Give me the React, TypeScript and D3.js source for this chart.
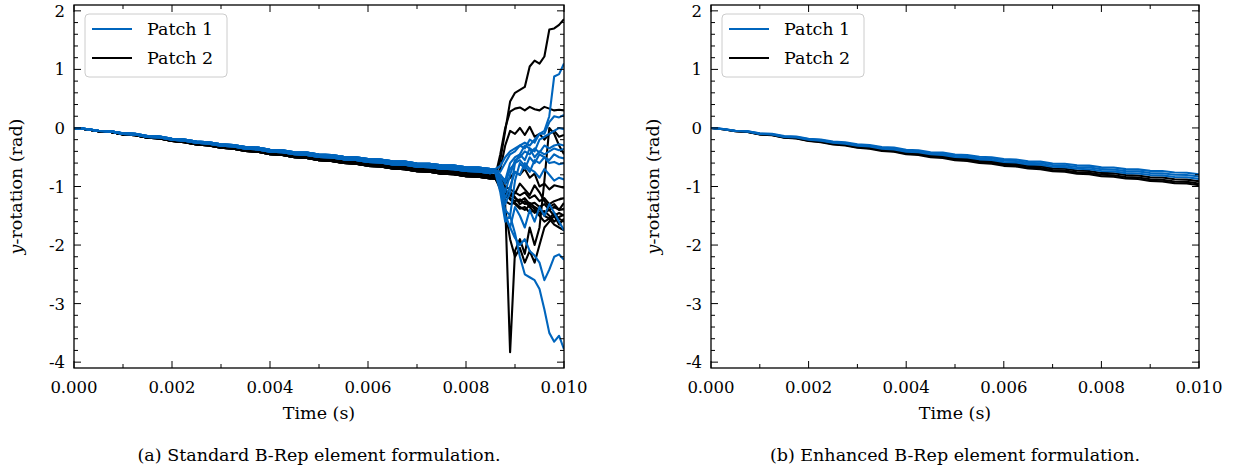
import React from "react";
import * as d3 from "d3";

// time grid of the smooth part (s)
const smoothTimes = [
  0, 0.00025, 0.0005, 0.00075, 0.001, 0.00125, 0.0015, 0.00175, 0.002, 0.00225,
  0.0025, 0.00275, 0.003, 0.00325, 0.0035, 0.00375, 0.004, 0.00425, 0.0045, 0.00475,
  0.005, 0.00525, 0.0055, 0.00575, 0.006, 0.00625, 0.0065, 0.00675, 0.007, 0.00725,
  0.0075, 0.00775, 0.008, 0.00825, 0.0085, 0.00875, 0.009, 0.00925, 0.0095, 0.00975, 0.01,
];
// time grid after the standard formulation breaks down
const breakTime = 0.0085;
const chaosTimes = [
  0.0086, 0.0087, 0.0088, 0.0089, 0.009, 0.0091, 0.0092, 0.0093, 0.0094, 0.0095,
  0.0096, 0.0097, 0.0098, 0.0099, 0.01,
];

// y-rotation (rad), Patch 1 (blue), smooth response
const patch1Smooth = [
  [0, -0.018, -0.047, -0.055, -0.093, -0.101, -0.14, -0.148, -0.186, -0.199, -0.233, -0.246, -0.279, -0.292, -0.326, -0.336, -0.372, -0.38, -0.414, -0.422, -0.455, -0.463, -0.492, -0.5, -0.533, -0.539, -0.57, -0.575, -0.606, -0.611, -0.638, -0.643, -0.672, -0.676, -0.703, -0.707, -0.733, -0.736, -0.762, -0.765, -0.79],
  [0, -0.019, -0.049, -0.058, -0.097, -0.106, -0.146, -0.155, -0.194, -0.208, -0.243, -0.257, -0.291, -0.305, -0.34, -0.351, -0.388, -0.397, -0.432, -0.441, -0.475, -0.484, -0.514, -0.523, -0.557, -0.564, -0.596, -0.602, -0.634, -0.64, -0.668, -0.674, -0.704, -0.709, -0.737, -0.742, -0.769, -0.773, -0.8, -0.804, -0.83],
  [0, -0.02, -0.051, -0.061, -0.101, -0.111, -0.152, -0.162, -0.202, -0.217, -0.253, -0.268, -0.303, -0.318, -0.354, -0.366, -0.404, -0.414, -0.45, -0.46, -0.495, -0.505, -0.536, -0.546, -0.581, -0.589, -0.622, -0.629, -0.662, -0.669, -0.698, -0.705, -0.736, -0.742, -0.771, -0.777, -0.805, -0.81, -0.838, -0.843, -0.87],
];

// y-rotation (rad), Patch 2 (black), smooth response
const patch2Smooth = [
  [0, -0.021, -0.053, -0.064, -0.105, -0.116, -0.158, -0.169, -0.21, -0.226, -0.263, -0.279, -0.315, -0.331, -0.368, -0.381, -0.42, -0.431, -0.468, -0.479, -0.515, -0.526, -0.558, -0.569, -0.605, -0.614, -0.648, -0.656, -0.69, -0.698, -0.728, -0.736, -0.768, -0.775, -0.805, -0.812, -0.841, -0.847, -0.875, -0.882, -0.91],
  [0, -0.022, -0.055, -0.067, -0.109, -0.121, -0.164, -0.176, -0.218, -0.235, -0.273, -0.29, -0.327, -0.344, -0.382, -0.396, -0.436, -0.448, -0.486, -0.498, -0.535, -0.547, -0.58, -0.592, -0.629, -0.639, -0.674, -0.683, -0.718, -0.727, -0.758, -0.767, -0.8, -0.808, -0.839, -0.847, -0.877, -0.884, -0.914, -0.921, -0.95],
  [0, -0.023, -0.056, -0.069, -0.112, -0.125, -0.168, -0.181, -0.224, -0.242, -0.28, -0.298, -0.336, -0.354, -0.392, -0.407, -0.448, -0.461, -0.499, -0.512, -0.55, -0.563, -0.596, -0.609, -0.647, -0.658, -0.693, -0.703, -0.739, -0.749, -0.78, -0.79, -0.824, -0.833, -0.864, -0.873, -0.904, -0.912, -0.942, -0.95, -0.98],
];

// standard formulation: diverging tails after t = 0.0085 s
const patch1TailBase = [0, 1, 2, 0, 1, 2, 0, 1, 2, 0, 1];
const patch1Tails = [
  [-0.7, -0.65, -0.5, -0.4, -0.35, -0.3, -0.25, -0.3, -0.2, -0.1, -0.05, 0.2, 0.88, 0.92, 1.1],
  [-0.72, -0.75, -0.6, -0.45, -0.4, -0.3, -0.35, -0.2, -0.25, -0.1, -0.1, 0.1, 0.2, 0.18, 0.22],
  [-0.73, -0.8, -0.9, -0.6, -0.5, -0.45, -0.3, -0.35, -0.4, -0.2, -0.15, -0.1, -0.05, 0.0, -0.02],
  [-0.72, -0.85, -1.1, -0.8, -0.55, -0.5, -0.4, -0.45, -0.35, -0.42, -0.3, -0.35, -0.3, -0.28, -0.3],
  [-0.74, -0.9, -1.3, -1.1, -0.6, -0.45, -0.55, -0.35, -0.5, -0.4, -0.45, -0.4, -0.35, -0.38, -0.36],
  [-0.75, -0.95, -1.4, -1.5, -0.9, -0.6, -0.7, -0.5, -0.6, -0.45, -0.5, -0.55, -0.45, -0.5, -0.52],
  [-0.73, -0.8, -0.95, -0.7, -0.6, -0.55, -0.65, -0.75, -0.55, -0.6, -0.5, -0.6, -0.58, -0.62, -0.6],
  [-0.74, -0.9, -1.2, -1.0, -0.75, -0.8, -0.6, -0.7, -0.75, -0.85, -0.7, -0.8, -0.9, -0.85, -0.88],
  [-0.75, -1.0, -1.5, -1.7, -1.35, -1.5, -1.7, -1.4, -1.6, -1.35, -1.5, -1.3, -1.45, -1.6, -1.75],
  [-0.76, -1.0, -1.5, -1.7, -1.88, -2.0, -1.9, -2.1, -2.18, -2.3, -2.6, -2.42, -2.2, -2.16, -2.25],
  [-0.77, -1.1, -1.6, -1.5, -1.8, -2.2, -2.5, -2.55, -2.6, -2.75, -3.1, -3.5, -3.65, -3.55, -3.78],
];
const patch2TailBase = [0, 1, 2, 0, 1, 2, 0, 1, 2, 0, 1, 2, 0];
const patch2Tails = [
  [-0.8, -0.55, -0.05, 0.45, 0.6, 0.65, 0.7, 1.05, 1.15, 1.1, 1.22, 1.68, 1.7, 1.76, 1.86],
  [-0.82, -0.45, 0.0, 0.28, 0.33, 0.35, 0.3, 0.36, 0.32, 0.3, 0.36, 0.33, 0.3, 0.31, 0.3],
  [-0.83, -0.7, -0.3, -0.05, -0.1, 0.0, -0.12, 0.02, -0.15, -0.1, -0.2, -0.1, -0.05, -0.15, -0.12],
  [-0.85, -0.88, -0.95, -0.85, -0.75, -0.8, -0.7, -0.85, -0.78, -1.0, -0.95, -1.05, -0.98, -1.0, -1.02],
  [-0.86, -0.95, -1.1, -1.15, -1.2, -1.25, -1.2, -1.3, -1.28, -1.35, -1.3, -1.4, -1.35, -1.4, -1.38],
  [-0.87, -1.0, -1.15, -1.2, -1.25, -1.22, -1.3, -1.28, -1.35, -1.4, -1.45, -1.4, -1.5, -1.45, -1.5],
  [-0.85, -0.98, -1.2, -1.1, -1.18, -1.3, -1.25, -1.35, -1.45, -1.38, -1.5, -1.55, -1.45, -1.55, -1.6],
  [-0.86, -1.05, -1.25, -1.3, -1.28, -1.35, -1.4, -1.32, -1.38, -1.45, -1.42, -1.5, -1.6, -1.52, -1.48],
  [-0.87, -0.95, -1.1, -1.22, -1.3, -1.38, -1.35, -1.45, -1.4, -1.5, -1.6, -1.55, -1.65, -1.7, -1.75],
  [-0.86, -0.92, -1.0, -1.05, -1.1, -1.15, -1.1, -1.2, -1.15, -1.25, -1.2, -1.3, -1.25, -1.22, -1.2],
  [-0.85, -0.9, -1.05, -1.15, -1.12, -0.95, -1.05, -1.15, -0.98, -1.1, -1.25, -1.35, -1.3, -1.4, -1.28],
  [-0.86, -0.9, -1.3, -3.83, -2.1, -1.9, -2.15, -1.7, -2.0, -1.7, -0.9, 0.0, -0.1, -0.3, -0.45],
  [-0.86, -1.0, -1.4, -1.9, -2.2, -2.05, -2.3, -2.1, -2.3, -2.0, -1.7, -1.6, -1.5, -1.65, -1.55],
];

const xTicks = [0, 0.002, 0.004, 0.006, 0.008, 0.01];
const yTicks = [-4, -3, -2, -1, 0, 1, 2];
const seriesNames = ["Patch 1", "Patch 2"];
const captions = [
  "(a) Standard B-Rep element formulation.",
  "(b) Enhanced B-Rep element formulation.",
];

const BLUE = "#0065bd";
const FONT = "'DejaVu Serif', serif";

type Pt = [number, number];

const smoothLine = (vals: number[], upTo = 1): Pt[] =>
  smoothTimes.map((t, i) => [t, vals[i]] as Pt).filter((p) => p[0] <= upTo + 1e-9);

function Panel({ left, right, caption, id, black, blue }: {
  left: number; right: number; caption: string; id: string; black: Pt[][]; blue: Pt[][];
}) {
  const top = 5, bottom = 368;
  const x = d3.scaleLinear().domain([0, 0.01]).range([left, right]);
  const y = d3.scaleLinear().domain([-4.1, 2.1]).range([bottom, top]);
  const line = d3.line<Pt>().x((d) => x(d[0])).y((d) => y(d[1]));
  const xMinor = [0.001, 0.003, 0.005, 0.007, 0.009];
  const yMinor = d3.range(-40, 21, 2).map((v) => v / 10).filter((v) => Math.abs(v - Math.round(v)) > 1e-6);
  const mid = (left + right) / 2;

  return (
    <g fontFamily={FONT} fill="#000">
      <clipPath id={id}>
        <rect x={left} y={top} width={right - left} height={bottom - top} />
      </clipPath>
      <g clipPath={`url(#${id})`} fill="none" strokeWidth={2.1} strokeLinejoin="round">
        {black.map((d, i) => (
          <path key={"k" + i} d={line(d) || ""} stroke="#000" />
        ))}
        {blue.map((d, i) => (
          <path key={"b" + i} d={line(d) || ""} stroke={BLUE} />
        ))}
      </g>
      {/* ticks, inward on all four sides */}
      <g stroke="#000" strokeWidth={1}>
        {xTicks.map((t) => (
          <g key={"xt" + t}>
            <line x1={x(t)} x2={x(t)} y1={bottom} y2={bottom - 7} />
            <line x1={x(t)} x2={x(t)} y1={top} y2={top + 7} />
          </g>
        ))}
        {xMinor.map((t) => (
          <g key={"xm" + t}>
            <line x1={x(t)} x2={x(t)} y1={bottom} y2={bottom - 4} />
            <line x1={x(t)} x2={x(t)} y1={top} y2={top + 4} />
          </g>
        ))}
        {yTicks.map((v) => (
          <g key={"yt" + v}>
            <line x1={left} x2={left + 7} y1={y(v)} y2={y(v)} />
            <line x1={right} x2={right - 7} y1={y(v)} y2={y(v)} />
          </g>
        ))}
        {yMinor.map((v) => (
          <g key={"ym" + v}>
            <line x1={left} x2={left + 4} y1={y(v)} y2={y(v)} />
            <line x1={right} x2={right - 4} y1={y(v)} y2={y(v)} />
          </g>
        ))}
      </g>
      <rect x={left} y={top} width={right - left} height={bottom - top} fill="none" stroke="#000" strokeWidth={1.3} />
      {xTicks.map((t) => (
        <text key={"xl" + t} x={x(t)} y={393} fontSize={16.5} textAnchor="middle">
          {d3.format(".3f")(t)}
        </text>
      ))}
      {yTicks.map((v) => (
        <text key={"yl" + v} x={left - 9} y={y(v) + 6} fontSize={16.5} textAnchor="end">
          {String(v)}
        </text>
      ))}
      <text x={mid} y={419} fontSize={17.5} textAnchor="middle">Time (s)</text>
      <text transform={`translate(${left - 52},${(top + bottom) / 2}) rotate(-90)`} fontSize={17.5} textAnchor="middle">
        <tspan fontStyle="italic">y</tspan>-rotation (rad)
      </text>
      <text x={mid} y={461} fontSize={17.5} textAnchor="middle">{caption}</text>
      {/* legend */}
      <g transform={`translate(${left + 11},14)`}>
        <rect x={0} y={0} width={142} height={63} rx={4} fill="#fff" fillOpacity={0.8} stroke="#cccccc" />
        {[BLUE, "#000"].map((c, i) => (
          <g key={c} transform={`translate(0,${15 + i * 29})`}>
            <line x1={7} x2={47} y1={0} y2={0} stroke={c} strokeWidth={2.1} />
            <text x={62} y={6} fontSize={17.5}>{seriesNames[i]}</text>
          </g>
        ))}
      </g>
    </g>
  );
}

export default function App() {
  // (a) standard formulation: smooth until break, then tails
  const leftBlack = [
    ...patch2Smooth.map((v) => smoothLine(v, breakTime)),
    ...patch2Tails.map((tail, i) => [
      ...smoothLine(patch2Smooth[patch2TailBase[i]], breakTime),
      ...chaosTimes.map((t, j) => [t, tail[j]] as Pt),
    ]),
  ];
  const leftBlue = [
    ...patch1Smooth.map((v) => smoothLine(v, breakTime)),
    ...patch1Tails.map((tail, i) => [
      ...smoothLine(patch1Smooth[patch1TailBase[i]], breakTime),
      ...chaosTimes.map((t, j) => [t, tail[j]] as Pt),
    ]),
  ];
  // (b) enhanced formulation: smooth throughout
  const rightBlack = patch2Smooth.map((v) => smoothLine(v));
  const rightBlue = patch1Smooth.map((v) => smoothLine(v));

  return (
    <svg width={1234} height={473} style={{ position: "absolute", left: 0, top: 0, background: "#fff" }}>
      <Panel left={74} right={564} caption={captions[0]} id="clipA" black={leftBlack} blue={leftBlue} />
      <Panel left={711} right={1199} caption={captions[1]} id="clipB" black={rightBlack} blue={rightBlue} />
    </svg>
  );
}
